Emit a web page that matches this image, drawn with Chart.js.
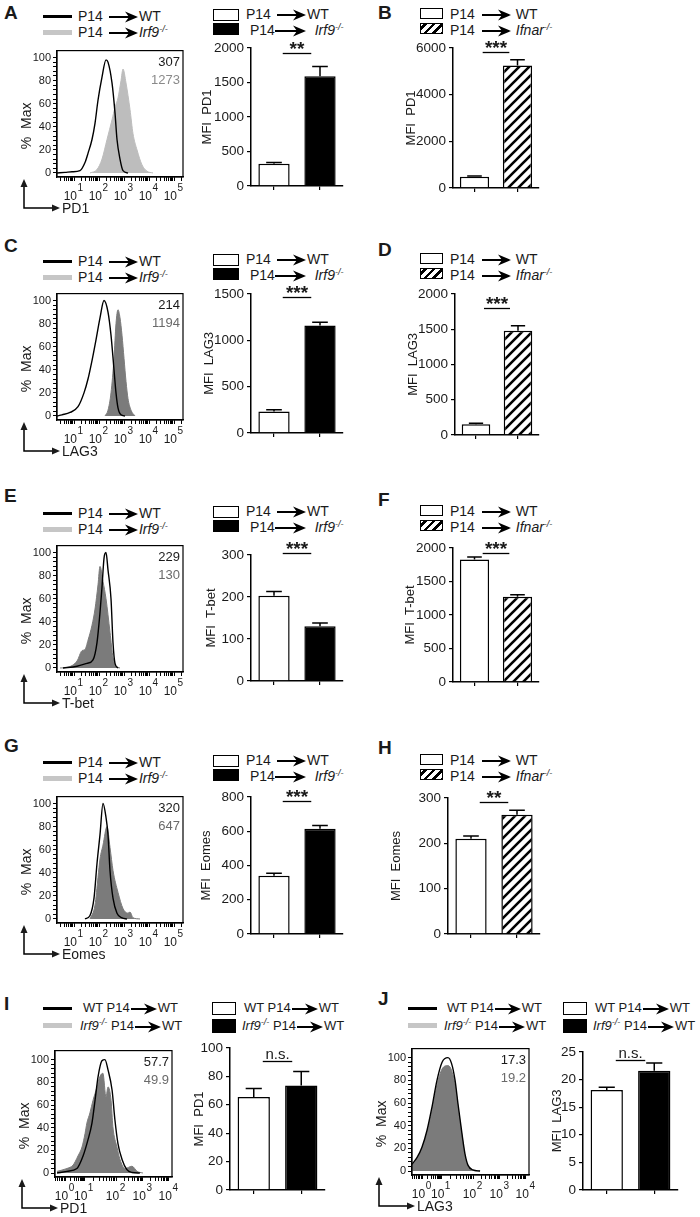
<!DOCTYPE html>
<html>
<head>
<meta charset="utf-8">
<script src="https://cdn.jsdelivr.net/npm/chart.js@4.4.1/dist/chart.umd.min.js"></script>
<style>
  body { margin: 0; background: #fff; font-family: "Liberation Sans", Arial, sans-serif; color: #1a1a1a; }
  #fig { position: relative; width: 700px; height: 1217px; overflow: hidden; }
  .lt { position: absolute; font-weight: bold; font-size: 19px; line-height: 20px; }
  .row { position: absolute; font-size: 14px; line-height: 16px; height: 16px; white-space: nowrap; }
  .row.sm { font-size: 13px; }
  .row svg { vertical-align: middle; }
  .row sup { font-size: 9px; font-style: italic; vertical-align: 5px; line-height: 0; }
  .sw { position: absolute; box-sizing: border-box; }
</style>
</head>
<body>
<div id="fig"></div>
<script>
// Histogramdata: [x, % av max]. x = log10 (dekader) för A-G, logicle-visning för I/J
const pd1WT = [[0.32,0],[0.64,0.5],[0.92,1],[1.24,2],[1.44,9],[1.56,17],[1.72,29],[1.84,43],[1.96,63],[2.12,83],[2.28,98],[2.36,96],[2.52,78],[2.64,52],[2.72,29],[2.84,12],[2.96,2],[3.16,0]];
const pd1Irf9 = [[1.64,0],[1.92,3],[2.12,12],[2.32,29],[2.52,46],[2.64,57],[2.76,65],[2.88,80],[2.96,90],[3.08,78],[3.24,55],[3.36,34],[3.52,20],[3.72,7],[3.92,1.5],[4.16,0]];
const lag3WT = [[0.32,0],[0.52,1],[0.84,3],[1.16,8],[1.4,20],[1.56,32],[1.72,48],[1.88,66],[2.04,85],[2.2,100],[2.36,90],[2.48,70],[2.6,40],[2.68,20],[2.76,7],[2.88,1],[3.04,0]];
const lag3Irf9 = [[2.24,0],[2.36,5],[2.48,20],[2.6,50],[2.68,80],[2.76,92],[2.84,85],[2.92,70],[3.0,50],[3.08,30],[3.16,15],[3.28,5],[3.44,0]];
const tbetWT = [[0.56,0],[1.12,1.5],[1.52,4],[1.76,7],[1.92,22],[2.04,48],[2.12,70],[2.2,95],[2.28,100],[2.36,85],[2.48,60],[2.56,22],[2.64,4],[2.76,0]];
const tbetIrf9 = [[0.44,0],[0.72,0.5],[1.12,6],[1.32,15],[1.44,16],[1.56,24],[1.72,37],[1.84,51],[1.96,72],[2.04,88],[2.16,75],[2.28,60],[2.44,31],[2.56,9],[2.72,1],[2.84,0]];
const eomesWT = [[1.44,0],[1.64,3],[1.8,18],[1.92,48],[2.04,73],[2.16,100],[2.28,88],[2.36,73],[2.44,42],[2.56,18],[2.72,5],[2.92,1],[3.12,0]];
const eomesIrf9 = [[1.64,0],[1.84,12],[1.96,36],[2.04,52],[2.16,64],[2.32,80],[2.44,62],[2.56,42],[2.76,23],[2.96,9],[3.16,5],[3.24,6],[3.36,1],[3.64,0]];
const pd1MixWT = [[0.08,0],[0.47,1.5],[0.86,4],[1.1,15],[1.29,29],[1.45,44],[1.57,64],[1.69,85],[1.84,99],[1.96,100],[2.08,91],[2.24,73],[2.35,47],[2.47,26],[2.63,12],[2.82,3],[3.02,0.5],[3.33,0]];
const pd1MixIrf9 = [[0.08,1.5],[0.47,4],[0.71,7],[0.9,15],[1.06,23],[1.18,35],[1.25,44],[1.37,53],[1.49,64],[1.65,76],[1.76,85],[1.88,88],[2.0,67],[2.08,76],[2.2,64],[2.27,41],[2.43,23],[2.55,12],[2.75,4],[3.02,6],[3.22,1.5],[3.45,0]];
const lag3MixWT = [[0,6],[0.2,12],[0.39,21],[0.59,36],[0.78,56],[0.98,80],[1.18,96],[1.41,100],[1.55,95],[1.69,80],[1.8,60],[1.96,33],[2.08,15],[2.2,5],[2.39,1],[2.67,0]];
const lag3MixIrf9 = [[0,5],[0.2,11],[0.39,20],[0.59,34],[0.78,53],[0.98,76],[1.18,90],[1.41,93],[1.55,89],[1.69,76],[1.8,57],[1.96,31],[2.08,13],[2.2,4],[2.39,0.5],[2.67,0]];

// Tick-etiketter för histogrammen (10^n)
const logExps = [1, 2, 3, 4, 5];
const logTickPos = [1, 2, 3, 4, 5];
const mixExps = [0, 1, 2, 3, 4];
const mixTickPos = [0.4, 1.15, 2.4, 3.45, 4.47];

// MFI-stapeldiagram: medel och SEM
const groupsIrf9 = ['P14 → WT', 'P14 → Irf9-/-'];
const groupsIfnar = ['P14 → WT', 'P14 → Ifnar-/-'];
const groupsMix = ['WT P14 → WT', 'Irf9-/- P14 → WT'];
const pd1IrfMfi = [320, 1590], pd1IrfSem = [20, 140];
const pd1IfnMfi = [480, 5250], pd1IfnSem = [30, 250];
const lag3IrfMfi = [230, 1160], lag3IrfSem = [20, 35];
const lag3IfnMfi = [150, 1480], lag3IfnSem = [15, 70];
const tbetIrfMfi = [203, 130], tbetIrfSem = [10, 8];
const tbetIfnMfi = [1830, 1270], tbetIfnSem = [35, 30];
const eomesIrfMfi = [340, 615], eomesIrfSem = [15, 18];
const eomesIfnMfi = [210, 263], eomesIfnSem = [6, 10];
const pd1MixMfi = [65.5, 73.5], pd1MixSem = [6, 10];
const lag3MixMfi = [18.1, 21.6], lag3MixSem = [0.5, 1.4];

const FONT = '"Liberation Sans", Arial, sans-serif';
Chart.defaults.font.family = FONT;
Chart.defaults.color = '#1a1a1a';

const fig = document.getElementById('fig');

function place(x, y, w, h) {
    const c = document.createElement('canvas');
    c.width = w; c.height = h;
    c.style.cssText = `position:absolute;left:${x}px;top:${y}px;width:${w}px;height:${h}px`;
    fig.appendChild(c);
    return c;
}

function html(x, y, s, cls, style) {
    const d = document.createElement('div');
    if (cls) d.className = cls;
    d.style.cssText = `left:${x}px;top:${y}px;` + (style || '');
    if (!cls) d.style.position = 'absolute';
    d.innerHTML = s;
    fig.appendChild(d);
}

const arrow = (w, ml) => `<svg width="${w}" height="12" viewBox="0 0 ${w} 12" style="margin:0 1px 0 ${ml || 0}px"><line x1="0" y1="6" x2="${w - 9}" y2="6" stroke="#000" stroke-width="2"/><polygon points="${w - 13},0.5 ${w},6 ${w - 13},11.5 ${w - 9},6" fill="#000"/></svg>`;
const ko = g => `<i>${g}</i><sup>-/-</sup>`;

function hatchPattern(ctx) {
    const c = document.createElement('canvas');
    c.width = 10; c.height = 10;
    const g = c.getContext('2d');
    g.fillStyle = '#fff'; g.fillRect(0, 0, 10, 10);
    g.strokeStyle = '#000'; g.lineWidth = 2.6;
    g.beginPath();
    g.moveTo(-2, 12); g.lineTo(12, -2);
    g.moveTo(-2, 2); g.lineTo(2, -2);
    g.moveTo(8, 12); g.lineTo(12, 8);
    g.stroke();
    return ctx.createPattern(c, 'repeat');
}

// Ram, 10^n-etiketter, pil-axlar och MFI-siffror på histogrammen
const histDeco = {
    id: 'histDeco',
    afterDraw(chart, args, o) {
        const { ctx, chartArea: a, scales: { x } } = chart;
        ctx.save();
        ctx.strokeStyle = '#000'; ctx.lineWidth = 1.2;
        ctx.strokeRect(a.left, a.top, a.right - a.left, a.bottom - a.top);
        ctx.fillStyle = '#1a1a1a';
        o.tickPos.forEach((p, i) => {
            const px = x.getPixelForValue(p);
            ctx.textBaseline = 'middle';
            ctx.font = '12px ' + FONT; ctx.textAlign = 'right';
            ctx.fillText('10', px + 3, a.bottom + 20);
            ctx.font = '10px ' + FONT; ctx.textAlign = 'left';
            ctx.fillText(String(o.exps[i]), px + 3.5, a.bottom + 11);
        });
        // % Max
        ctx.save();
        ctx.translate(a.left - 30, (a.top + a.bottom) / 2 + 12);
        ctx.rotate(-Math.PI / 2);
        ctx.font = '14px ' + FONT; ctx.textAlign = 'center'; ctx.textBaseline = 'middle';
        ctx.fillText('%  Max', 0, 0);
        ctx.restore();
        // L-pil
        const cx = a.left - 33, cy = a.bottom + 31;
        ctx.lineWidth = 1.5;
        ctx.beginPath();
        ctx.moveTo(cx, a.bottom + 8); ctx.lineTo(cx, cy); ctx.lineTo(a.left - 4, cy);
        ctx.stroke();
        ctx.beginPath();
        ctx.moveTo(cx, a.bottom + 2); ctx.lineTo(cx - 3.5, a.bottom + 10); ctx.lineTo(cx + 3.5, a.bottom + 10); ctx.closePath();
        ctx.moveTo(a.left + 3, cy); ctx.lineTo(a.left - 5, cy - 3.5); ctx.lineTo(a.left - 5, cy + 3.5); ctx.closePath();
        ctx.fill();
        ctx.font = '14px ' + FONT; ctx.textAlign = 'left'; ctx.textBaseline = 'middle';
        ctx.fillText(o.marker, a.left + 5, cy + 1);
        // MFI-siffror
        ctx.textAlign = 'right';
        ctx.font = '13px ' + FONT;
        ctx.fillText(o.nums[0], a.right - 3, a.top + 12);
        ctx.fillStyle = o.numGray;
        ctx.fillText(o.nums[1], a.right - 3, a.top + 30);
        ctx.restore();
    }
};

// Felstaplar och signifikansmarkering
const barDeco = {
    id: 'barDeco',
    afterDatasetsDraw(chart, args, o) {
        const { ctx, scales: { y } } = chart;
        const meta = chart.getDatasetMeta(0);
        const vals = chart.data.datasets[0].data;
        ctx.save();
        ctx.strokeStyle = '#000'; ctx.lineWidth = 1.5;
        meta.data.forEach((bar, i) => {
            const top = y.getPixelForValue(vals[i] + o.err[i]);
            const half = bar.width * 0.25;
            ctx.beginPath();
            ctx.moveTo(bar.x, bar.y); ctx.lineTo(bar.x, top);
            ctx.moveTo(bar.x - half, top); ctx.lineTo(bar.x + half, top);
            ctx.stroke();
        });
        const c1 = meta.data[0].x, c2 = meta.data[1].x;
        const mid = (c1 + c2) / 2, hw = (c2 - c1) * 0.31;
        const ly = Math.round(y.getPixelForValue(o.sigY)) + 0.5;
        ctx.lineWidth = 1.3;
        ctx.beginPath(); ctx.moveTo(mid - hw, ly); ctx.lineTo(mid + hw, ly); ctx.stroke();
        ctx.fillStyle = '#1a1a1a'; ctx.textAlign = 'center'; ctx.textBaseline = 'alphabetic';
        if (o.sig[0] === '*') {
            ctx.font = 'bold 19px ' + FONT;
            ctx.fillText(o.sig, mid, ly + 1);
        } else {
            ctx.font = '15px ' + FONT;
            ctx.fillText(o.sig, mid, ly - 3);
        }
        ctx.restore();
    }
};

function histogram(p) {
    const padT = 8, padR = 8, wY = 45, hX = 42;
    const cv = place(p.L - wY, p.T - padT, p.R - p.L + wY + padR, p.B - p.T + padT + hX);
    const lo = p.tickPos[0] - 1, minor = [];
    // mindre tickmarkeringar mellan dekaderna
    for (let i = 0; i < p.tickPos.length; i++) {
        const a = p.tickPos[i];
        const span = i + 1 < p.tickPos.length ? p.tickPos[i + 1] - a : 1;
        for (let k = 1; k < 10; k++) minor.push(a + Math.log10(k) * span);
        if (i === 0) for (let k = 2; k < 10; k++) minor.push(lo + Math.log10(k) * (a - lo));
    }
    const xticks = minor.filter(v => v >= p.xmin && v <= p.xmax);
    new Chart(cv, {
        type: 'line',
        data: {
            datasets: [
                { data: p.wt.map(([x, y]) => ({ x, y })), borderColor: '#000', borderWidth: 1.4, pointRadius: 0, fill: false, tension: 0.3, cubicInterpolationMode: 'monotone', order: 0 },
                { data: p.ko.map(([x, y]) => ({ x, y })), borderColor: p.gray, backgroundColor: p.gray, borderWidth: 1, pointRadius: 0, fill: 'origin', tension: 0.3, cubicInterpolationMode: 'monotone', order: 1 }
            ]
        },
        options: {
            responsive: false, animation: false, devicePixelRatio: 1,
            layout: { padding: { top: padT, right: padR, left: 0, bottom: 0 } },
            plugins: {
                legend: { display: false }, tooltip: { enabled: false },
                histDeco: { tickPos: p.tickPos, exps: p.exps, marker: p.marker, nums: p.nums, numGray: p.numGray }
            },
            scales: {
                x: {
                    type: 'linear', min: p.xmin, max: p.xmax,
                    afterBuildTicks: s => { s.ticks = xticks.map(v => ({ value: v })); },
                    ticks: { display: false },
                    grid: { drawOnChartArea: false, tickLength: 4, color: '#000', lineWidth: 1 },
                    border: { color: '#000', width: 1.2 },
                    afterFit: s => { s.height = hX; }
                },
                y: {
                    min: p.ymin, max: p.ymax,
                    afterBuildTicks: s => { const t = []; for (let v = 0; v <= 100; v += 4) t.push({ value: v }); s.ticks = t; },
                    ticks: { autoSkip: false, callback: v => (v % 20 === 0 ? String(v) : ''), font: { size: 11 }, color: '#1a1a1a', padding: 2 },
                    grid: { drawOnChartArea: false, tickLength: 4, color: '#000', lineWidth: 1 },
                    border: { color: '#000', width: 1.2 },
                    afterFit: s => { s.width = wY; }
                }
            }
        },
        plugins: [histDeco]
    });
}

function barChart(p) {
    const padT = 26, padR = 6, hX = 8, wY = Math.round(p.L - p.titleX + 8);
    const cv = place(p.L - wY, p.T - padT, p.R - p.L + wY + padR, p.B - p.T + padT + hX);
    const ctx = cv.getContext('2d');
    const second = p.hatch ? hatchPattern(ctx) : '#000';
    new Chart(cv, {
        type: 'bar',
        data: {
            labels: p.labels,
            datasets: [{ data: p.values, backgroundColor: ['#fff', second], borderColor: '#000', borderWidth: 1.5, barPercentage: 0.68, categoryPercentage: 1 }]
        },
        options: {
            responsive: false, animation: false, devicePixelRatio: 1,
            layout: { padding: { top: padT, right: padR, left: 0, bottom: 0 } },
            plugins: { legend: { display: false }, tooltip: { enabled: false }, barDeco: { err: p.err, sigY: p.sigY, sig: p.sig } },
            scales: {
                x: {
                    grid: { offset: false, drawOnChartArea: false, tickLength: 4, color: '#000', lineWidth: 1.2 },
                    ticks: { callback: () => '' },
                    border: { color: '#000', width: 1.5 },
                    afterFit: s => { s.height = hX; }
                },
                y: {
                    min: 0, max: p.max,
                    ticks: { stepSize: p.step, callback: v => String(v), font: { size: 13.5 }, color: '#1a1a1a', padding: 3 },
                    grid: { drawOnChartArea: false, tickLength: 4, color: '#000', lineWidth: 1.2 },
                    border: { color: '#000', width: 1.5 },
                    title: { display: true, text: p.title, font: { size: 13 }, color: '#1a1a1a', padding: 0 },
                    afterFit: s => { s.width = wY; }
                }
            }
        },
        plugins: [barDeco]
    });
}

// ---- Panelbokstäver ----
[['A', 4, 3], ['B', 378, 3], ['C', 4, 236], ['D', 378, 240], ['E', 4, 486], ['F', 378, 490],
 ['G', 4, 736], ['H', 378, 738], ['I', 4, 994], ['J', 378, 989]].forEach(([t, x, y]) => html(x, y, t, 'lt'));

// ---- Rad A-G ----
const rows = [
    { o: 0, ho: 0, marker: 'PD1', wt: pd1WT, ko: pd1Irf9, nums: ['307', '1273'], gray: '#bdbdbd', numGray: '#8a8a8a',
      left: { L: 251, R: 343, T: 48, B: 189, max: 2000, step: 500, titleX: 208, title: 'MFI  PD1', values: pd1IrfMfi, err: pd1IrfSem, sigY: 1930, sig: '**' },
      right: { L: 453, R: 539, T: 48, B: 191, max: 6000, step: 2000, titleX: 412, title: 'MFI  PD1', values: pd1IfnMfi, err: pd1IfnSem, sigY: 5830, sig: '***' } },
    { o: 245, ho: 243, marker: 'LAG3', wt: lag3WT, ko: lag3Irf9, nums: ['214', '1194'], gray: '#7b7b7b', numGray: '#6a6a6a',
      left: { L: 251, R: 343, T: 294, B: 436, max: 1500, step: 500, titleX: 210, title: 'MFI  LAG3', values: lag3IrfMfi, err: lag3IrfSem, sigY: 1468, sig: '***' },
      right: { L: 455, R: 539, T: 294, B: 438, max: 2000, step: 500, titleX: 414, title: 'MFI  LAG3', values: lag3IfnMfi, err: lag3IfnSem, sigY: 1806, sig: '***' } },
    { o: 497, ho: 495, marker: 'T-bet', wt: tbetWT, ko: tbetIrf9, nums: ['229', '130'], gray: '#7b7b7b', numGray: '#6a6a6a',
      left: { L: 251, R: 343, T: 555, B: 684, max: 300, step: 100, titleX: 212, title: 'MFI  T-bet', values: tbetIrfMfi, err: tbetIrfSem, sigY: 305, sig: '***' },
      right: { L: 453, R: 539, T: 548, B: 685, max: 2000, step: 500, titleX: 411, title: 'MFI  T-bet', values: tbetIfnMfi, err: tbetIfnSem, sigY: 1927, sig: '***' } },
    { o: 746, ho: 746, marker: 'Eomes', wt: eomesWT, ko: eomesIrf9, nums: ['320', '647'], gray: '#7b7b7b', numGray: '#6a6a6a',
      left: { L: 251, R: 343, T: 797, B: 937, max: 800, step: 200, titleX: 207, title: 'MFI  Eomes', values: eomesIrfMfi, err: eomesIrfSem, sigY: 777, sig: '***' },
      right: { L: 448, R: 540, T: 798, B: 937, max: 300, step: 100, titleX: 397, title: 'MFI  Eomes', values: eomesIfnMfi, err: eomesIfnSem, sigY: 291, sig: '**' } }
];

rows.forEach(r => {
    const o = r.o;
    // linjelegend
    html(43, 14.5 + o, '', 'sw', 'width:29px;height:3px;background:#000');
    html(43, 29.5 + o, '', 'sw', 'width:29px;height:5px;background:#c6c6c6');
    html(78, 8 + o, 'P14' + arrow(29, 6) + 'WT', 'row');
    html(78, 24 + o, 'P14' + arrow(29, 6) + ko('Irf9'), 'row');
    // stapellegend vänster
    html(213, 9 + o, '', 'sw', 'width:26px;height:12px;border:1.5px solid #000;background:#fff');
    html(213, 23 + o, '', 'sw', 'width:26px;height:12px;background:#000');
    html(246, 6 + o, 'P14' + arrow(29, 6) + 'WT', 'row');
    html(250, 22 + o, 'P14' + arrow(31, 0) + '&nbsp;&nbsp;' + ko('Irf9'), 'row');
    // stapellegend höger
    html(420, 8 + o, '', 'sw', 'width:23px;height:11px;border:1.5px solid #000;background:#fff');
    html(420, 23 + o, '', 'sw', 'width:23px;height:11px;border:1.5px solid #000;background:repeating-linear-gradient(135deg,#fff 0 2px,#000 2px 4.5px,#fff 4.5px 6px)');
    html(450, 6 + o, 'P14' + arrow(29, 7) + '&nbsp;WT', 'row');
    html(450, 22 + o, 'P14' + arrow(29, 7) + '&nbsp;' + ko('Ifnar'), 'row');

    histogram({ L: 57, R: 183, T: 50 + r.ho, B: 177 + r.ho, xmin: 0.32, xmax: 5.36, ymin: -3.5, ymax: 106,
        tickPos: logTickPos, exps: logExps, marker: r.marker, wt: r.wt, ko: r.ko, gray: r.gray, nums: r.nums, numGray: r.numGray });
    barChart(Object.assign({ labels: groupsIrf9, hatch: false }, r.left));
    barChart(Object.assign({ labels: groupsIfnar, hatch: true }, r.right));
});

// ---- Rad I-J ----
[[43, 83, 212, 244], [408, 447, 563, 595]].forEach(([lx, tx, bx, btx]) => {
    html(lx, 1006.5, '', 'sw', 'width:29px;height:3px;background:#000');
    html(lx, 1022.5, '', 'sw', 'width:29px;height:5px;background:#c6c6c6');
    html(tx, 1000, 'WT P14' + arrow(26, 1) + 'WT', 'row sm');
    html(tx - 3, 1018, ko('Irf9') + ' P14' + arrow(26, 1) + 'WT', 'row sm');
    html(bx, 1002, '', 'sw', 'width:24px;height:13px;border:1.5px solid #000;background:#fff');
    html(bx, 1019, '', 'sw', 'width:24px;height:14px;background:#000');
    html(btx, 1000, 'WT P14' + arrow(26, 1) + 'WT', 'row sm');
    html(btx - 2, 1018, ko('Irf9') + ' P14' + arrow(26, 1) + 'WT', 'row sm');
});

histogram({ L: 55, R: 172, T: 1050, B: 1177, xmin: 0, xmax: 4.59, ymin: -3.5, ymax: 108,
    tickPos: mixTickPos, exps: mixExps, marker: 'PD1', wt: pd1MixWT, ko: pd1MixIrf9, gray: '#7b7b7b', nums: ['57.7', '49.9'], numGray: '#6a6a6a' });
histogram({ L: 412, R: 529, T: 1048, B: 1175, xmin: 0, xmax: 4.59, ymin: -3.5, ymax: 108,
    tickPos: mixTickPos, exps: mixExps, marker: 'LAG3', wt: lag3MixWT, ko: lag3MixIrf9, gray: '#7b7b7b', nums: ['17.3', '19.2'], numGray: '#6a6a6a' });
barChart({ labels: groupsMix, hatch: false, L: 230, R: 325, T: 1048, B: 1193, max: 100, step: 20, titleX: 200, title: 'MFI  PD1', values: pd1MixMfi, err: pd1MixSem, sigY: 91, sig: 'n.s.' });
barChart({ labels: groupsMix, hatch: false, L: 583, R: 678, T: 1052, B: 1193, max: 25, step: 5, titleX: 558, title: 'MFI  LAG3', values: lag3MixMfi, err: lag3MixSem, sigY: 23.6, sig: 'n.s.' });
</script>
</body>
</html>
